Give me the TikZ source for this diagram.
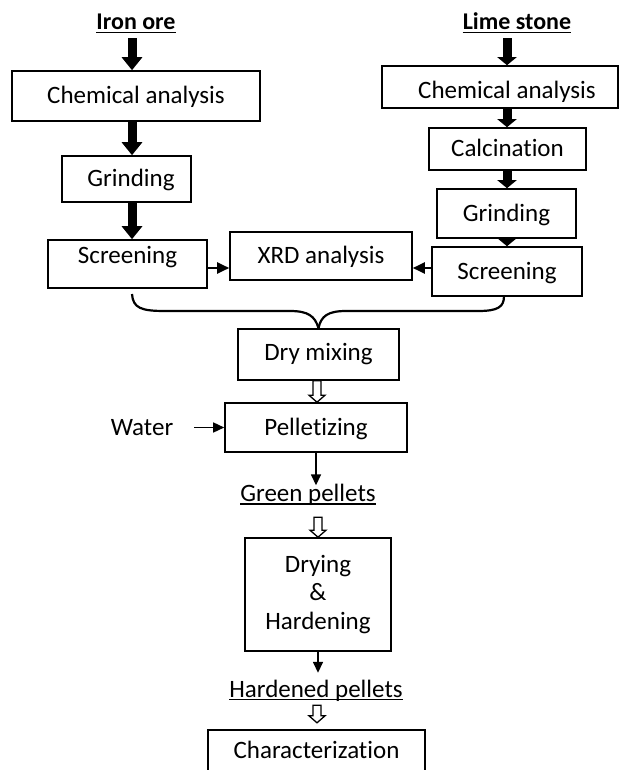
\documentclass[tikz,border=0pt]{standalone}
\usepackage{fontspec}
\setmainfont{Carlito}[Ligatures=NoCommon]
\usetikzlibrary{arrows.meta,calc}
\newcommand\myfnt{\fontsize{25}{28.5}\selectfont}
\newcommand\mylblfnt{\fontsize{24}{28}\selectfont\bfseries}
\newcommand\hollowarr[2]{\draw[hollowst] let \p1=(#1), \p2=(#2) in
  (\x1-4pt,\y1) -- (\x1-4pt,\y2+7pt) -- (\x1-8pt,\y2+7pt) -- (\x1,\y2) --
  (\x1+8pt,\y2+7pt) -- (\x1+4pt,\y2+7pt) -- (\x1+4pt,\y1) -- cycle;}
\begin{document}
\begin{tikzpicture}[x=1pt,y=-1pt,
  box/.style={draw, line width=1.6pt, inner sep=0pt, font=\myfnt, text height=19pt, text depth=4pt},
  boxline/.style={line width=1.6pt},
  lbl/.style={inner sep=0pt, font=\mylblfnt, text height=16pt, text depth=0pt},
  pl/.style={inner sep=0pt, font=\myfnt, text height=16pt, text depth=5pt},
  uline/.style={line width=1.3pt},
  bigarr/.style={line width=9pt, -{Triangle[width=20pt,length=13pt]}},
  rarr/.style={line width=9pt, -{Triangle[width=19pt,length=8pt]}},
  tharr/.style={line width=2pt, -{Triangle[width=11pt,length=12pt]}},
  tharrb/.style={line width=1.5pt, -{Triangle[width=10pt,length=11pt]}},
  hollowst/.style={draw, fill=white, line width=1.3pt, line join=miter},
  bracest/.style={line width=2.2pt}]
\useasboundingbox (0,0) rectangle (619,770);
\fill[white] (0,0) rectangle (619,770);
% column coordinates
\coordinate (colL) at (132,0);
\coordinate (colR) at (507,0);
\coordinate (colM) at (317,0);
\coordinate (rowX) at (0,268);
% labels
\node[lbl, anchor=base] (ironlbl) at (136,30) {Iron ore};
\node[lbl, anchor=base] (limelbl) at (517,30) {Lime stone};
\draw[uline] ([yshift=-2.5pt]ironlbl.base west) -- ([yshift=-2.5pt]ironlbl.base east);
\draw[uline] ([yshift=-2.5pt]limelbl.base west) -- ([yshift=-2.5pt]limelbl.base east);
% left column
\node[box, minimum width=248pt, minimum height=50pt] (chemL) at (136,96) {Chemical analysis};
\node[box, minimum width=129pt, minimum height=46pt] (grindL) at (126.5,179) {\hspace*{9pt}Grinding};
\node[box, minimum width=159pt, minimum height=48pt, text height=19pt, text depth=21pt] (screenL) at (127.5,264) {Screening};
% middle
\node[box, minimum width=182pt, minimum height=48pt] (xrd) at (321,256) {XRD analysis};
% right column
\node[box, minimum width=236pt, minimum height=42pt, text height=25pt, text depth=2pt] (chemR) at (500,87) {\hspace*{14pt}Chemical analysis};
\node[box, minimum width=157pt, minimum height=42pt] (calc) at (507.5,149) {Calcination};
\node[box, minimum width=139pt, minimum height=49pt] (grindR) at (506.5,213.5) {Grinding};
\node[box, minimum width=150pt, minimum height=49pt] (screenR) at (507,271.5) {Screening};
% lower part
\node[box, minimum width=161pt, minimum height=51pt, text height=17pt, text depth=5pt] (dry) at (318.5,354.5) {Dry mixing};
\node[box, minimum width=182pt, minimum height=49pt] (pellet) at (316,427.5) {Pelletizing};
\node[pl, anchor=base] (water) at (142,435) {Water};
\node[pl, anchor=base] (green) at (308,501.5) {Green pellets};
\draw[uline] ([yshift=-2.5pt]green.base west) -- ([yshift=-2.5pt]green.base east);
\node[draw, line width=1.6pt, inner sep=0pt, font=\myfnt, align=center,
      minimum width=146pt, minimum height=113pt] (drying) at (318,594.5) {Drying\\\&\\Hardening};
\node[pl, anchor=base] (hardened) at (316,697) {Hardened pellets};
\draw[uline] ([yshift=-2.5pt]hardened.base west) -- ([yshift=-2.5pt]hardened.base east);
\node[inner sep=0pt, font=\myfnt, text height=18pt, text depth=5pt,
      minimum width=217pt, minimum height=44pt] (char) at (316.5,752) {Characterization};
\draw[boxline] (char.south west) -- (char.north west) -- (char.north east) -- (char.south east);
% thick arrows, left
\draw[bigarr, shorten <=8pt] (ironlbl.south -| colL) -- (chemL.north -| colL);
\draw[bigarr] (chemL.south -| colL) -- (grindL.north -| colL);
\draw[bigarr] (grindL.south -| colL) -- (screenL.north -| colL);
% thick arrows, right
\draw[rarr, shorten <=8pt] (limelbl.south -| colR) -- (chemR.north -| colR);
\draw[rarr] (chemR.south -| colR) -- (calc.north -| colR);
\draw[rarr] (calc.south -| colR) -- (grindR.north -| colR);
\draw[rarr] (grindR.south -| colR) -- (screenR.north -| colR);
% to XRD
\draw[tharr] (screenL.east |- rowX) -- (xrd.west |- rowX);
\draw[tharr] (screenR.west |- rowX) -- (xrd.east |- rowX);
% brace
\coordinate (braceL) at (132,294);
\coordinate (braceR) at (504,296);
\draw[bracest] (braceL) .. controls (133,308) and (141,311) .. (165,311) -- (290,311)
   .. controls (308,311) and (315,316) .. (dry.north);
\draw[bracest] (dry.north) .. controls (321,316) and (328,311) .. (346,311) -- (478,311)
   .. controls (498,311) and (504,307) .. (braceR);
% lower arrows
\hollowarr{dry.south -| colM}{pellet.north -| colM}
\draw[tharrb, shorten <=21pt] (water.east |- pellet.west) -- (pellet.west);
\draw[tharrb] (pellet.south) -- (pellet.south |- green.north);
\hollowarr{$(green.south -| drying.north)+(0,10.5)$}{drying.north}
\draw[tharrb, shorten >=8pt] (drying.south) -- (drying.south |- hardened.north);
\hollowarr{$(hardened.south -| colM)+(0,3)$}{$(char.north -| colM)+(0,-7)$}
\end{tikzpicture}
\end{document}
